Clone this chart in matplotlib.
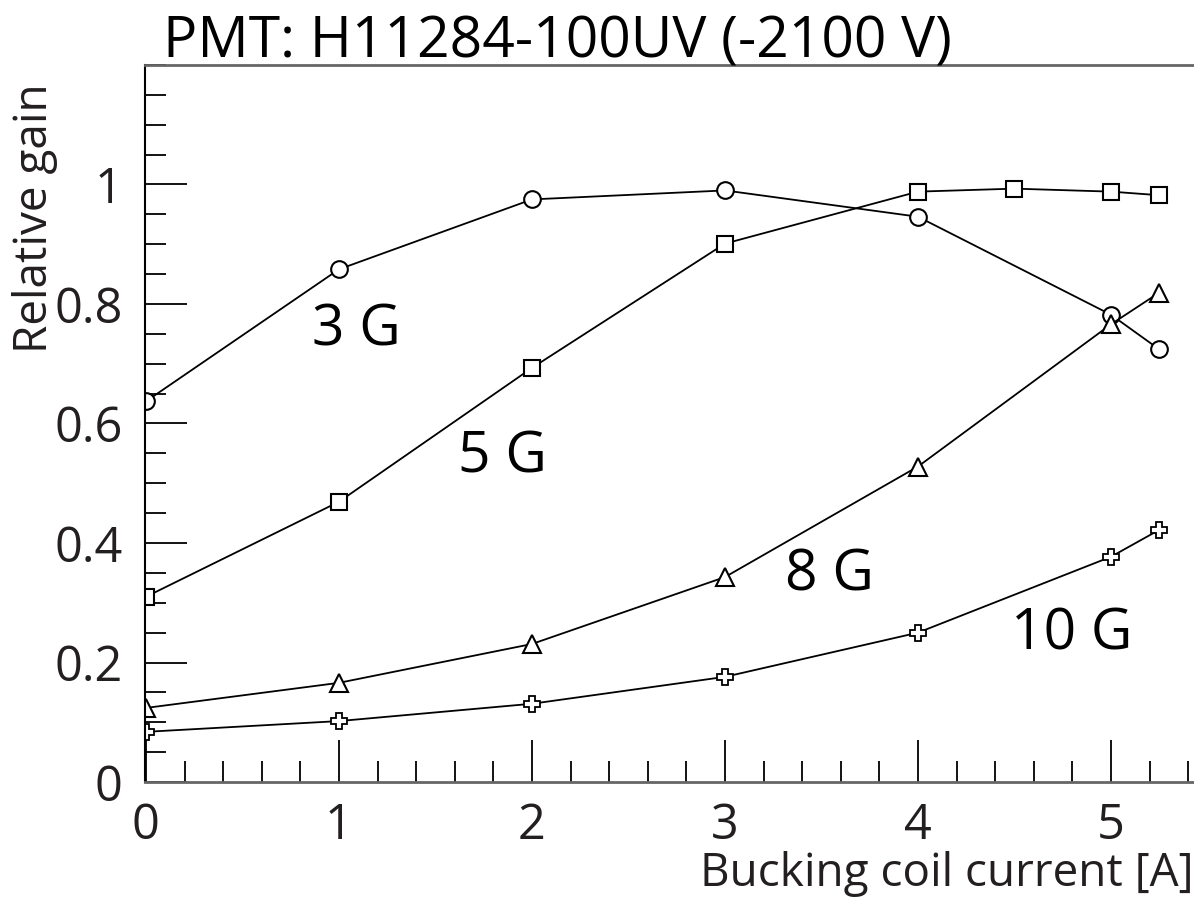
import matplotlib.pyplot as plt
from matplotlib.ticker import MultipleLocator

plt.rcParams['font.family'] = ['Open Sans', 'DejaVu Sans']

current = [0, 1, 2, 3, 4, 5, 5.25]
current_5g = [0, 1, 2, 3, 4, 4.5, 5, 5.25]

gain_3g = [0.637, 0.858, 0.975, 0.990, 0.946, 0.782, 0.724]
gain_5g = [0.310, 0.469, 0.693, 0.901, 0.988, 0.993, 0.988, 0.982]
gain_8g = [0.124, 0.166, 0.231, 0.343, 0.528, 0.766, 0.819]
gain_10g = [0.084, 0.102, 0.131, 0.176, 0.250, 0.377, 0.422]

labels = ['3 G', '5 G', '8 G', '10 G']
label_pos = [(0.86, 0.755), (1.615, 0.543), (3.31, 0.345), (4.48, 0.246)]

txt = '#231f20'

fig = plt.figure(figsize=(11.94, 9.02), dpi=100)
ax = fig.add_axes([0.1214, 0.133, 0.8786, 0.795])

ax.plot(current, gain_3g, color='k', lw=1.3, marker='o', ms=12, mfc='white', mew=1.5)
ax.plot(current_5g, gain_5g, color='k', lw=1.3, marker='s', ms=12, mfc='white', mew=1.5)
ax.plot(current, gain_8g, color='k', lw=1.3, marker='^', ms=13, mfc='white', mew=1.5)
ax.plot(current, gain_10g, color='k', lw=1.3, marker='P', ms=12, mfc='white', mew=1.3)

for lab, (x, y) in zip(labels, label_pos):
    ax.text(x, y, lab, fontsize=41, color='k', ha='left', va='center')

ax.set_xlim(-0.005, 5.43)
ax.set_ylim(0, 1.2)
ax.xaxis.set_major_locator(MultipleLocator(1))
ax.xaxis.set_minor_locator(MultipleLocator(0.2))
ax.yaxis.set_minor_locator(MultipleLocator(0.05))
ax.set_yticks([0, 0.2, 0.4, 0.6, 0.8, 1.0])
ax.set_yticklabels(['0', '0.2', '0.4', '0.6', '0.8', '1'])

ax.tick_params(which='major', direction='in', length=30, width=1.3, labelsize=35,
               labelcolor=txt, pad=14)
ax.tick_params(which='minor', direction='in', length=15, width=1.3)
ax.tick_params(axis='y', pad=16)

ax.spines['right'].set_visible(False)
ax.spines['top'].set_color('#666666')
ax.spines['bottom'].set_color('#666666')
ax.spines['top'].set_linewidth(2)
ax.spines['bottom'].set_linewidth(2)
ax.spines['left'].set_linewidth(1.5)

ax.set_xlabel('Bucking coil current [A]', fontsize=33, color=txt, loc='right', labelpad=0)
fig.text(35 / 1194, 1 - 218 / 902, 'Relative gain', fontsize=33, color=txt,
         rotation=90, ha='center', va='center')
fig.text(163 / 1194, 1 - 57 / 902, 'PMT: H11284-100UV (-2100 V)', fontsize=41, color='k',
         ha='left', va='baseline')

plt.savefig('out.png', dpi=100)
